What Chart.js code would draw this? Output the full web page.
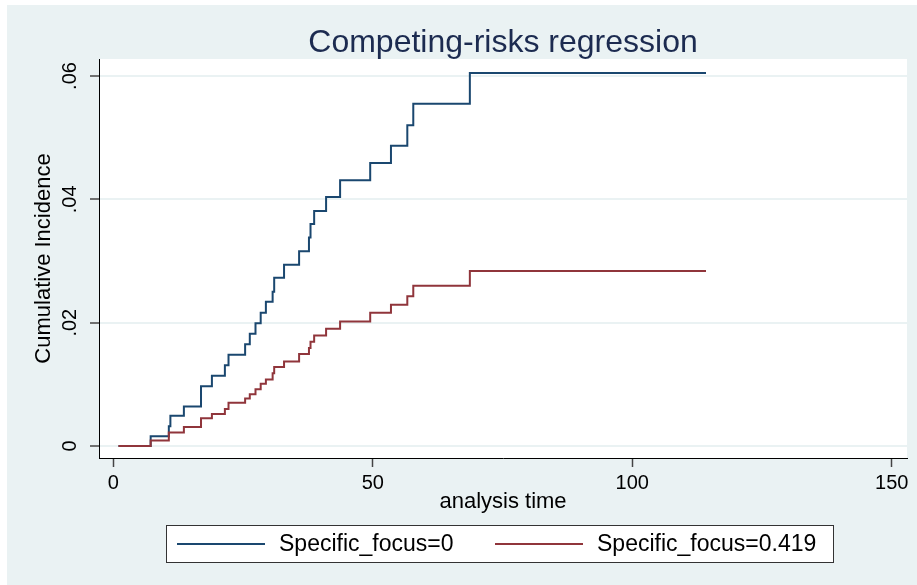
<!doctype html>
<html>

<head>
  <title>Competing-risks regression</title>
  <script src="https://cdn.jsdelivr.net/npm/chart.js@4.4.0/dist/chart.umd.min.js"></script>
  <style>
    body {
      margin: 0;
      background: #fff;
    }
    canvas {
      display: block;
    }
  </style>
</head>

<body>
  <canvas id="myChart" width="917" height="585"></canvas>

  <script>
    // analysis time of each step (shared by both curves)
    var times = [1, 7.2, 10.7, 11.0, 13.6, 16.9, 19.0, 21.5, 22.2, 25.4, 26.3, 27.4, 28.4, 29.4,
      30.7, 31.0, 32.9, 35.8, 37.7, 38.0, 38.7, 41.0, 43.7, 49.5, 53.5, 56.65, 57.8, 68.7, 114.2];

    // cumulative incidence, Specific_focus=0
    var cifFocus0 = [0, 0.0016, 0.0032, 0.0049, 0.0064, 0.0097, 0.0114, 0.0131, 0.0148, 0.0165,
      0.0182, 0.0199, 0.0216, 0.0234, 0.0250, 0.0273, 0.0294, 0.0316, 0.0338, 0.0360, 0.0381,
      0.0404, 0.0431, 0.0459, 0.0487, 0.0520, 0.0555, 0.0605, 0.0605];

    // cumulative incidence, Specific_focus=0.419
    var cifFocus419 = [0, 0.0009, 0.0022, 0.0022, 0.0031, 0.0045, 0.0052, 0.0060, 0.0070, 0.0077,
      0.0084, 0.0092, 0.0101, 0.0108, 0.0118, 0.0128, 0.0137, 0.0149, 0.0159, 0.0169, 0.0179,
      0.0190, 0.0202, 0.0216, 0.0229, 0.0243, 0.0260, 0.0284, 0.0284];

    var seriesLabels = ['Specific_focus=0', 'Specific_focus=0.419'];
    var xTicks = [0, 50, 100, 150];
    var yTicks = [0, 0.02, 0.04, 0.06];

    var FONT = '"Liberation Sans", Arial, sans-serif';
    var colors = {
      blue: '#1a476f',
      red: '#90353b',
      bg: '#eaf2f3',
      title: '#1c2b50'
    };

    function toPoints(ys) {
      return times.map(function(t, i) {
        return { x: t, y: ys[i] };
      });
    }

    // outer background, white plot region, title and the boxed legend
    var stataFrame = {
      id: 'stataFrame',
      beforeDraw: function(chart) {
        var ctx = chart.ctx;
        var a = chart.chartArea;
        ctx.save();
        ctx.fillStyle = '#fff';
        ctx.fillRect(0, 0, chart.width, chart.height);
        ctx.fillStyle = colors.bg;
        ctx.fillRect(7, 5, chart.width - 7, chart.height - 5);
        ctx.fillStyle = '#fff';
        ctx.fillRect(a.left, a.top, a.right - a.left, a.bottom - a.top);
        ctx.restore();
      },
      afterDraw: function(chart) {
        var ctx = chart.ctx;
        var a = chart.chartArea;
        ctx.save();
        ctx.fillStyle = colors.title;
        ctx.font = '32px ' + FONT;
        ctx.textAlign = 'center';
        ctx.textBaseline = 'alphabetic';
        ctx.fillText('Competing-risks regression', (a.left + a.right) / 2, 52);

        // legend box
        ctx.fillStyle = '#fff';
        ctx.fillRect(167, 525, 666, 38);
        ctx.strokeStyle = '#333';
        ctx.lineWidth = 1;
        ctx.strokeRect(166.5, 525.5, 667, 37);

        var keys = [
          { x0: 177, x1: 265, tx: 279 },
          { x0: 495, x1: 583, tx: 597 }
        ];
        chart.data.datasets.forEach(function(ds, i) {
          var k = keys[i];
          ctx.strokeStyle = ds.borderColor;
          ctx.lineWidth = 2;
          ctx.beginPath();
          ctx.moveTo(k.x0, 544);
          ctx.lineTo(k.x1, 544);
          ctx.stroke();
          ctx.fillStyle = '#000';
          ctx.font = '23px ' + FONT;
          ctx.textAlign = 'left';
          ctx.textBaseline = 'middle';
          ctx.fillText(ds.label, k.tx, 545);
        });
        ctx.restore();
      }
    };

    var config = {
      type: 'line',
      data: {
        datasets: [{
          label: seriesLabels[0],
          data: toPoints(cifFocus0),
          borderColor: colors.blue,
          order: 1
        }, {
          label: seriesLabels[1],
          data: toPoints(cifFocus419),
          borderColor: colors.red,
          order: 0
        }]
      },
      options: {
        responsive: false,
        animation: false,
        devicePixelRatio: 1,
        layout: {
          padding: { left: 0, top: 59, right: 10, bottom: 0 }
        },
        elements: {
          line: { borderWidth: 2, stepped: true, fill: false, tension: 0 },
          point: { radius: 0 }
        },
        plugins: {
          legend: { display: false },
          title: { display: false },
          tooltip: { enabled: false }
        },
        scales: {
          x: {
            type: 'linear',
            min: -2.755,
            max: 152.93,
            afterFit: function(scale) { scale.height = 127; },
            afterBuildTicks: function(scale) {
              scale.ticks = xTicks.map(function(v) { return { value: v }; });
            },
            border: { display: true, color: '#000', width: 1 },
            grid: {
              drawOnChartArea: false,
              drawTicks: true,
              tickLength: 9,
              tickColor: '#444',
              tickWidth: 1.5
            },
            ticks: {
              padding: 4,
              color: '#000',
              font: { family: FONT, size: 20 },
              callback: function(v) { return String(v); }
            },
            title: {
              display: true,
              text: 'analysis time',
              color: '#000',
              font: { family: FONT, size: 22 },
              padding: { top: 0, bottom: 70 }
            }
          },
          y: {
            type: 'linear',
            min: -0.001946,
            max: 0.06276,
            afterFit: function(scale) { scale.width = 99; },
            afterBuildTicks: function(scale) {
              scale.ticks = yTicks.map(function(v) { return { value: v }; });
            },
            border: { display: true, color: '#000', width: 1 },
            grid: {
              drawOnChartArea: true,
              color: colors.bg,
              lineWidth: 2,
              drawTicks: true,
              tickLength: 9,
              tickColor: '#444',
              tickWidth: 1.5
            },
            ticks: {
              minRotation: 90,
              maxRotation: 90,
              crossAlign: 'center',
              padding: 6,
              color: '#000',
              font: { family: FONT, size: 20 },
              callback: function(v) {
                return v === 0 ? '0' : v.toFixed(2).replace(/^0/, '');
              }
            },
            title: {
              display: true,
              text: 'Cumulative Incidence',
              color: '#000',
              font: { family: FONT, size: 22 },
              padding: { top: 31, bottom: 0 }
            }
          }
        }
      },
      plugins: [stataFrame]
    };

    window.onload = function() {
      var ctx = document.getElementById('myChart').getContext('2d');
      window.myChart = new Chart(ctx, config);
    };
  </script>
</body>

</html>
